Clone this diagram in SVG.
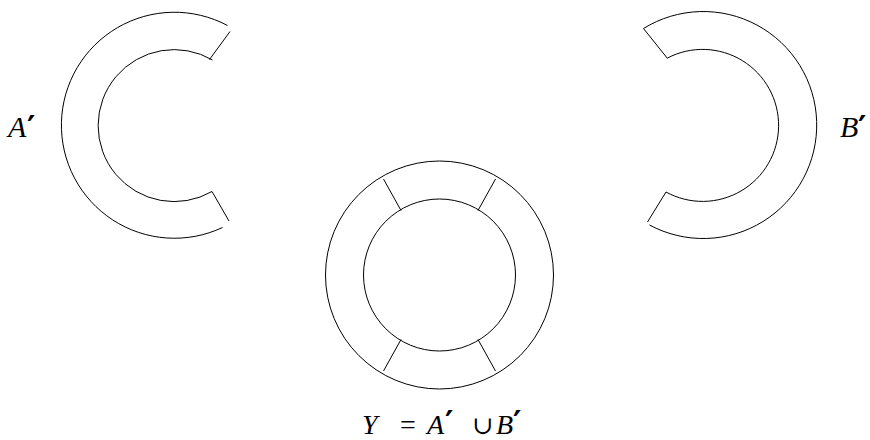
<svg xmlns="http://www.w3.org/2000/svg" width="870" height="440" viewBox="0 0 870 440">
<style>
.s{fill:none;stroke:#000;stroke-width:1;}
.t{font-family:'Liberation Serif',serif;font-style:italic;font-size:30px;fill:#000;}
.u{font-family:'Liberation Serif','DejaVu Serif',serif;font-style:normal;fill:#000;}
.p{font-family:'DejaVu Sans',sans-serif;font-style:normal;font-weight:bold;font-size:32px;fill:#000;}
.b{font-size:28px;}
</style>
<rect width="870" height="440" fill="#fff"/>
<g id="nodeA">
<path class="s" d="M227.5,25.5 A113,113 0 1 0 222.5,227.5"/>
<path class="s" d="M212.5,60 A76,76 0 1 0 212,191.5"/>
<path class="s" d="M230,31.5 L209.5,59.5"/>
<path class="s" d="M212,191.5 L229,221"/>
<text class="t" x="8" y="137">A</text>
<text class="p" x="27" y="138">′</text>
</g>
<g id="nodeB">
<path class="s" d="M643.5,28.5 A113.5,113.5 0 1 1 649.5,225"/>
<path class="s" d="M667.5,58 A76,76 0 1 1 666,192"/>
<path class="s" d="M643.5,28.5 L667.5,58.5"/>
<path class="s" d="M666,192 L647.5,222"/>
<text class="t" x="840" y="137">B</text>
<text class="p" x="858" y="138">′</text>
</g>
<g id="nodeY">
<circle class="s" cx="439.5" cy="275" r="114"/>
<circle class="s" cx="439.5" cy="275" r="76"/>
<g id="connectors">
<path class="s" d="M383.5,179 L401,210.5"/>
<path class="s" d="M495.5,179 L478,210.5"/>
<path class="s" d="M401,339.5 L383.5,371"/>
<path class="s" d="M478,339.5 L495.5,371"/>
</g>
<text class="t b" x="362" y="434">Y</text>
<text class="u" x="400" y="434" font-size="28">=</text>
<text class="t b" x="427" y="434">A</text>
<text class="p" x="445" y="433" font-size="28">′</text>
<text class="u" x="472" y="434" font-size="25">∪</text>
<text class="t b" x="496" y="434">B</text>
<text class="p" x="513" y="433" font-size="28">′</text>
</g>
</svg>
